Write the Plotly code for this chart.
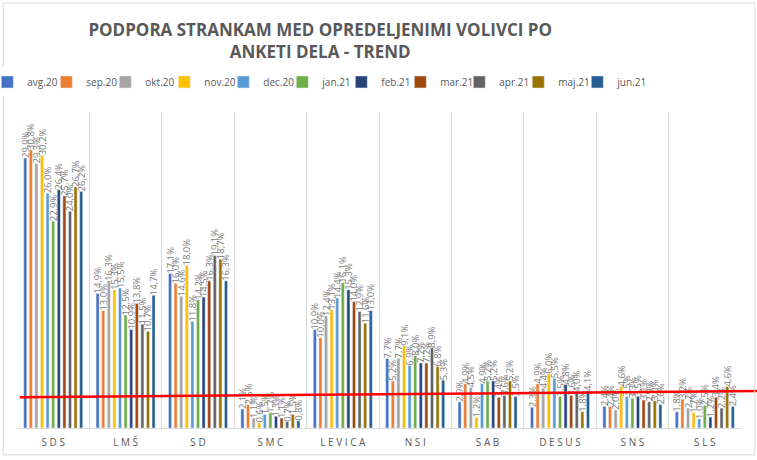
import plotly.graph_objects as go

# anketa Dela - podpora strankam med opredeljenimi volivci (%)
parties = ["SDS", "LMŠ", "SD", "SMC", "LEVICA", "NSI", "SAB", "DESUS", "SNS", "SLS"]
months = ["avg.20", "sep.20", "okt.20", "nov.20", "dec.20", "jan.21",
          "feb.21", "mar.21", "apr.21", "maj.21", "jun.21"]
colors = ["#4472C4", "#ED7D31", "#A5A5A5", "#FFC000", "#5B9BD5", "#70AD47",
          "#264478", "#9E480E", "#636363", "#997300", "#255E91"]

sds = [29.9, 30.8, 29.3, 30.2, 26.0, 22.9, 26.4, 25.7, 24.0, 26.7, 26.2]
lms = [14.9, 13.0, 16.3, 15.3, 15.5, 12.5, 10.9, 13.8, 11.5, 10.7, 14.7]
sd = [17.1, 16.0, 14.6, 18.0, 11.8, 14.2, 14.5, 16.3, 19.1, 18.7, 16.3]
smc = [2.1, 2.6, 1.1, 0.6, 1.5, 1.7, 1.3, 1.1, 0.7, 1.5, 0.8]
levica = [10.9, 10.0, 12.4, 13.1, 14.4, 16.1, 15.3, 14.0, 12.9, 11.6, 13.0]
nsi = [7.7, 5.2, 7.7, 9.1, 6.9, 8.0, 7.2, 7.2, 8.9, 6.8, 5.3]
sab = [2.9, 4.9, 4.5, 1.2, 4.9, 5.2, 5.2, 3.4, 3.6, 5.2, 3.5]
desus = [2.3, 4.9, 4.4, 6.0, 5.5, 3.5, 4.8, 3.6, 4.0, 1.8, 4.1]
sns = [2.4, 2.4, 2.0, 4.6, 3.5, 3.3, 3.5, 3.1, 2.9, 3.0, 2.6]
sls = [1.8, 3.2, 2.2, 1.7, 1.0, 2.5, 1.2, 3.4, 2.2, 4.6, 2.4]

support = [sds, lms, sd, smc, levica, nsi, sab, desus, sns, sls]

FONT = "Open Sans"
GREY = "#595959"

fig = go.Figure()

for i, month in enumerate(months):
    vals = [p[i] for p in support]
    fig.add_trace(go.Bar(
        x=parties,
        y=vals,
        name=month,
        marker_color=colors[i],
        text=[f"{v:.1f}%".replace(".", ",") for v in vals],
        textposition="outside",
        textangle=-90,
        textfont=dict(family=FONT, size=9.5, color="#7f7f7f"),
        constraintext="none",
        cliponaxis=False,
        # zadnji vnos legende rabi vec prostora, sicer se besedilo odreze
        legendwidth=34 if i == len(months) - 1 else None,
    ))

# rocno narisana rdeca crta (prag)
fig.add_shape(type="line", xref="paper", yref="paper",
              x0=0.004, y0=0.097, x1=1.03, y1=0.117,
              line=dict(color="#FF0000", width=2.5))

# okvir grafa
fig.add_shape(type="rect", xref="paper", yref="paper",
              x0=-0.019, y0=-0.085, x1=1.019, y1=1.345,
              line=dict(color="#D9D9D9", width=1))

fig.update_layout(
    width=757,
    height=460,
    margin=dict(l=17, r=16, t=112, b=32, autoexpand=False),
    paper_bgcolor="white",
    plot_bgcolor="white",
    barmode="group",
    bargap=0.15,
    bargroupgap=0.45,
    title=dict(
        text="PODPORA STRANKAM MED OPREDELJENIMI VOLIVCI PO<br>ANKETI DELA - TREND",
        x=0.423, xanchor="center", xref="container",
        y=0.922, yanchor="middle",
        font=dict(family=FONT, size=17, color=GREY, weight="bold"),
    ),
    legend=dict(
        orientation="h",
        x=0.421, xanchor="center",
        y=1.095, yanchor="middle",
        font=dict(family=FONT, size=10, color=GREY),
        entrywidth=14,
        itemwidth=30,
        traceorder="normal",
    ),
    xaxis=dict(
        tickson="boundaries",
        showgrid=True,
        gridcolor="#D9D9D9",
        showline=True,
        linecolor="#D9D9D9",
        ticks="",
        ticklabelstandoff=5,
        ticktext=[" ".join(p) for p in parties],
        tickvals=parties,
        tickfont=dict(family=FONT, size=10, color=GREY),
    ),
    yaxis=dict(
        range=[0, 35],
        visible=False,
        showgrid=False,
    ),
)

fig.write_html("out.html", config={"displayModeBar": False},
               post_script="document.body.style.margin='0';")
